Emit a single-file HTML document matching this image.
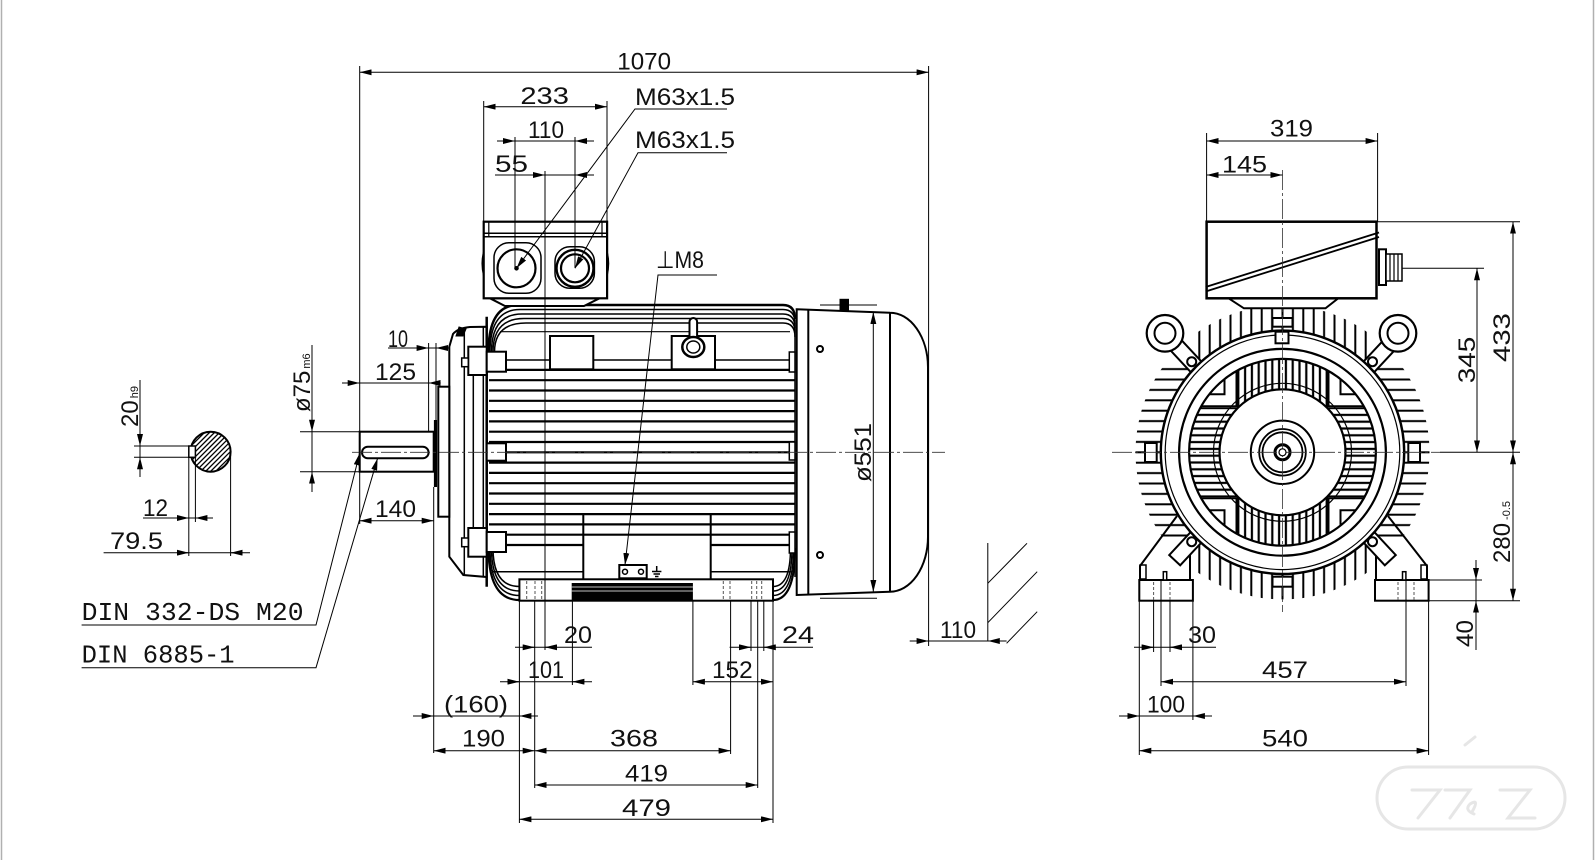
<!DOCTYPE html>
<html><head><meta charset="utf-8">
<style>
html,body{margin:0;padding:0;background:#fff;}
svg{display:block}
text{font-family:"Liberation Sans",sans-serif;font-size:24px;fill:#111}
.m{font-family:"Liberation Mono","Liberation Sans",monospace;font-size:26px}
</style></head><body>
<svg width="1596" height="860" viewBox="0 0 1596 860" xmlns="http://www.w3.org/2000/svg">
<defs>
<marker id="ar" viewBox="0 0 12 6" refX="12" refY="3" markerWidth="12" markerHeight="6" markerUnits="userSpaceOnUse" orient="auto-start-reverse"><path d="M0,0 L12,3 L0,6 z" fill="#000"/></marker>
<pattern id="hf" patternUnits="userSpaceOnUse" x="0" y="447.1" width="40" height="10.4"><rect x="0" y="4.2" width="40" height="2" fill="#000"/></pattern>
<pattern id="vf" patternUnits="userSpaceOnUse" x="1277.3" y="0" width="10.4" height="40"><rect x="4.2" y="0" width="2" height="40" fill="#000"/></pattern>
<pattern id="gv" patternUnits="userSpaceOnUse" x="1282.5" y="0" width="6.8" height="40"><rect x="2.3" y="0" width="2.2" height="40" fill="#000"/></pattern>
<pattern id="gh" patternUnits="userSpaceOnUse" x="0" y="452.3" width="40" height="6.8"><rect x="0" y="2.3" width="40" height="2.2" fill="#000"/></pattern>
<clipPath id="finAnn"><path clip-rule="evenodd" d="M1135.5,452.3 a147,147 0 1,0 294,0 a147,147 0 1,0 -294,0 Z M1160.8,452.3 a121.7,121.7 0 1,0 243.4,0 a121.7,121.7 0 1,0 -243.4,0 Z"/></clipPath>
<clipPath id="grAnn"><path clip-rule="evenodd" d="M1189.5,452.3 a93,93 0 1,0 186,0 a93,93 0 1,0 -186,0 Z M1219.5,452.3 a63,63 0 1,0 126,0 a63,63 0 1,0 -126,0 Z"/></clipPath>
<clipPath id="cs"><circle cx="210.6" cy="451.7" r="20"/></clipPath>
</defs>
<rect width="1596" height="860" fill="#fff"/>
<line x1="1.5" y1="0" x2="1.5" y2="860" stroke="#b0b0b0" stroke-width="1.5"/>
<line x1="1593.5" y1="0" x2="1593.5" y2="860" stroke="#b0b0b0" stroke-width="1.5"/>

<!-- ========== SIDE VIEW BODY ========== -->
<g stroke="#000" stroke-width="2.2">
<line x1="489" y1="369.9" x2="795" y2="369.9"/>
<line x1="489" y1="380.2" x2="795" y2="380.2"/>
<line x1="489" y1="390.5" x2="795" y2="390.5"/>
<line x1="489" y1="400.8" x2="795" y2="400.8"/>
<line x1="489" y1="411.1" x2="795" y2="411.1"/>
<line x1="489" y1="421.4" x2="795" y2="421.4"/>
<line x1="489" y1="431.7" x2="795" y2="431.7"/>
<line x1="489" y1="442.0" x2="795" y2="442.0"/>
<line x1="489" y1="452.3" x2="795" y2="452.3"/>
<line x1="489" y1="462.6" x2="795" y2="462.6"/>
<line x1="489" y1="472.9" x2="795" y2="472.9"/>
<line x1="489" y1="483.2" x2="795" y2="483.2"/>
<line x1="489" y1="493.5" x2="795" y2="493.5"/>
<line x1="489" y1="503.8" x2="795" y2="503.8"/>
<line x1="489" y1="514.1" x2="795" y2="514.1"/>
<line x1="489" y1="524.4" x2="795" y2="524.4"/>
<line x1="489" y1="534.7" x2="795" y2="534.7"/>
<line x1="489" y1="545.0" x2="583" y2="545.0"/>
<line x1="711" y1="545.0" x2="795" y2="545.0"/>
</g>
<g fill="none" stroke="#000">
<!-- frame corners -->
<path stroke-width="2.4" d="M488.5,352 Q488.5,305 518,305 H783 Q795,305 795,319"/>
<path stroke-width="1.5" d="M490,352 Q490,309.5 520,309.5 H783 Q795,309.5 795,323.5"/>
<path stroke-width="1.5" d="M491.5,352 Q491.5,314 522,314 H783 Q795,314 795,328"/>
<path stroke-width="1.5" d="M493,352 Q493,318.5 524,318.5 H783 Q795,318.5 795,332.5"/>
<path stroke-width="1.5" d="M494.5,352 Q494.5,323 526,323 H783 Q795,323 795,337"/>
<path stroke-width="2.2" d="M488.5,548 Q488.5,600 519.4,600"/>
<path stroke-width="1.5" d="M490,548 Q490,595.5 519.4,595.5"/>
<path stroke-width="1.5" d="M491.5,548 Q491.5,591 519.4,591"/>
<path stroke-width="1.5" d="M493,548 Q493,586.5 519.4,586.5"/>
<path stroke-width="2.2" d="M795,548 Q795,600 773,600"/>
<path stroke-width="1.5" d="M793.5,548 Q793.5,595.5 773,595.5"/>
<path stroke-width="1.5" d="M792,548 Q792,591 773,591"/>
<path stroke-width="1.5" d="M790.5,548 Q790.5,586.5 773,586.5"/>
<line x1="500" y1="331.7" x2="790" y2="331.7" stroke-width="1.2"/>
<line x1="506" y1="360" x2="550" y2="360" stroke-width="1.5"/>
<line x1="593.3" y1="360" x2="671.7" y2="360" stroke-width="1.5"/>
<line x1="715" y1="360" x2="789" y2="360" stroke-width="1.5"/>
<line x1="493" y1="571.7" x2="583" y2="571.7" stroke-width="1.5"/>
<line x1="711" y1="571.7" x2="791" y2="571.7" stroke-width="1.5"/>
<line x1="795" y1="323" x2="795" y2="577" stroke-width="1.5"/>
<rect x="550" y="336" width="43.3" height="33.3" fill="#fff" stroke-width="2"/>
<rect x="671.7" y="336" width="43.3" height="33.3" fill="#fff" stroke-width="2"/>
<rect x="689.5" y="318" width="7.6" height="26" rx="3.8" fill="#fff" stroke-width="2"/>
<ellipse cx="693.3" cy="347" rx="11" ry="10" fill="#fff" stroke-width="2.5"/>
<ellipse cx="693.3" cy="347" rx="6.5" ry="6" stroke-width="1.5"/>
<line x1="583.3" y1="514" x2="583.3" y2="579.3" stroke-width="2"/>
<line x1="710.7" y1="514" x2="710.7" y2="579.3" stroke-width="2"/>
<!-- ground terminal -->
<rect x="619.3" y="565" width="27.4" height="13.3" fill="#fff" stroke-width="2"/>
<circle cx="625" cy="571.7" r="2.5" stroke-width="1.5"/>
<circle cx="641" cy="571.7" r="2.5" stroke-width="1.5"/>
<line x1="656.7" y1="566" x2="656.7" y2="571" stroke-width="1.5"/>
<line x1="652" y1="571.5" x2="661.4" y2="571.5" stroke-width="1.5"/>
<line x1="653.5" y1="574" x2="660" y2="574" stroke-width="1.5"/>
<line x1="655" y1="576.5" x2="658.5" y2="576.5" stroke-width="1.5"/>
<!-- base / feet -->
<rect x="519.4" y="579.3" width="253.6" height="21.4" fill="#fff" stroke-width="2"/>
<rect x="571.7" y="583" width="121.2" height="17" fill="#000" stroke="none"/>
<line x1="571.7" y1="587" x2="692.9" y2="587" stroke="#fff" stroke-width="0.8"/>
<line x1="571.7" y1="591" x2="692.9" y2="591" stroke="#fff" stroke-width="0.8"/>
<g stroke-width="1" stroke-dasharray="3 2" stroke="#555">
<line x1="526.7" y1="581" x2="526.7" y2="600"/><line x1="535" y1="581" x2="535" y2="600"/><line x1="541.7" y1="581" x2="541.7" y2="600"/>
<line x1="723.3" y1="581" x2="723.3" y2="600"/><line x1="730" y1="581" x2="730" y2="600"/><line x1="751.7" y1="581" x2="751.7" y2="600"/><line x1="756.7" y1="581" x2="756.7" y2="600"/><line x1="761.7" y1="581" x2="761.7" y2="600"/>
</g>
<!-- right side frame rects -->
<rect x="789.3" y="352" width="5.7" height="20" fill="#fff" stroke-width="1.5"/>
<rect x="789.3" y="442" width="5.7" height="18" fill="#fff" stroke-width="1.5"/>
<rect x="789.3" y="532" width="5.7" height="21" fill="#fff" stroke-width="1.5"/>
<!-- end shield -->
<path stroke-width="2" fill="#fff" d="M486.7,326.7 L470,327 Q458,328 453,334 L449.3,346.7 L449.3,556.7 L463.3,575 L486.7,577 Z"/>
<line x1="464.3" y1="331" x2="464.3" y2="575" stroke-width="1.5"/>
<line x1="473.3" y1="346.7" x2="473.3" y2="556.7" stroke-width="1.5"/>
<line x1="483.3" y1="326.7" x2="483.3" y2="577" stroke-width="1.5"/>
<line x1="486.7" y1="316.7" x2="486.7" y2="586.7" stroke-width="2.5"/>
<rect x="468.3" y="346.7" width="18.4" height="28.3" fill="#fff" stroke-width="2"/>
<rect x="461.7" y="358" width="6.6" height="8.7" fill="#fff" stroke-width="1.5"/>
<rect x="486.7" y="351.7" width="19.3" height="20" fill="#fff" stroke-width="2"/>
<rect x="468.3" y="528" width="18.4" height="28.7" fill="#fff" stroke-width="2"/>
<rect x="461.7" y="538" width="6.6" height="8.7" fill="#fff" stroke-width="1.5"/>
<rect x="486.7" y="532" width="19.3" height="20" fill="#fff" stroke-width="2"/>
<rect x="486.7" y="443.3" width="19.3" height="17.4" fill="#fff" stroke-width="2"/>
<path d="M456,336 L459,327 L466,329 L463,336 Z" fill="#000" stroke-width="1"/>
<rect x="438.3" y="386.7" width="11" height="130" fill="#fff" stroke-width="2"/>
<line x1="435.5" y1="420" x2="435.5" y2="487" stroke-width="3.2"/>
<!-- shaft -->
<rect x="359.7" y="431.7" width="74" height="40" fill="#fff" stroke-width="2"/>
<rect x="362" y="446.7" width="66.6" height="11.6" rx="5.8" stroke-width="2"/>
<!-- terminal box side -->
<polygon points="490,298.3 505,306 584,306 599.5,298.3" fill="#fff" stroke-width="2"/>
<rect x="483.7" y="221.7" width="123.4" height="76.6" fill="#fff" stroke-width="2.2"/>
<line x1="483.7" y1="233.3" x2="607" y2="233.3" stroke-width="1.5"/>
<line x1="483.7" y1="236.7" x2="607" y2="236.7" stroke-width="1.5"/>
<line x1="488.8" y1="221.7" x2="488.8" y2="236.7" stroke-width="1.2"/>
<line x1="602" y1="221.7" x2="602" y2="236.7" stroke-width="1.2"/>
<path d="M483.7,252 q-3,11 0,24" stroke-width="1.5"/>
<path d="M607,252 q3,11 0,24" stroke-width="1.5"/>
<rect x="494" y="242.7" width="47" height="50.6" rx="15" stroke-width="1.5"/>
<circle cx="516.5" cy="268.3" r="19" stroke-width="2.2"/>
<circle cx="516.5" cy="268.3" r="1.8" fill="#000"/>
<rect x="555" y="246.7" width="39.4" height="41.6" rx="15" stroke-width="1.5"/>
<circle cx="575" cy="268.3" r="18.5" stroke-width="2.4"/>
<circle cx="575" cy="268.3" r="14" stroke-width="2.2"/>
<!-- fan cover -->
<path stroke-width="2" fill="#fff" d="M796.7,309.3 L890,312.7 A38,55 0 0 1 928,367 L928,537 A38,55 0 0 1 890,591.7 L796.7,595 Z"/>
<line x1="808.3" y1="309.7" x2="808.3" y2="594.6" stroke-width="2"/>
<line x1="890" y1="312.7" x2="890" y2="591.7" stroke-width="2"/>
<rect x="840" y="299.3" width="8.5" height="11" fill="#000" stroke-width="1"/>
<circle cx="820" cy="349" r="3" stroke-width="2"/>
<circle cx="820" cy="555" r="3" stroke-width="2"/>
</g>
<!-- side center line -->
<line x1="352" y1="452.3" x2="945" y2="452.3" stroke="#333" stroke-width="0.8" stroke-dasharray="20 3 3 3"/>

<!-- ========== SIDE VIEW DIMENSIONS ========== -->
<g stroke="#000" stroke-width="1" fill="none">
<!-- extension lines -->
<line x1="359.7" y1="66" x2="359.7" y2="524"/>
<line x1="928.6" y1="66" x2="928.6" y2="646"/>
<line x1="483.7" y1="101" x2="483.7" y2="222"/>
<line x1="607" y1="101" x2="607" y2="222"/>
<line x1="515" y1="137" x2="515" y2="268"/>
<line x1="575" y1="137" x2="575" y2="268"/>
<line x1="545" y1="171" x2="545" y2="650"/>
<line x1="428.6" y1="343" x2="428.6" y2="431"/>
<line x1="436" y1="343" x2="436" y2="420"/>
<line x1="300" y1="431.7" x2="359.7" y2="431.7"/>
<line x1="300" y1="471.7" x2="359.7" y2="471.7"/>
<line x1="433.7" y1="487" x2="433.7" y2="753"/>
<line x1="519.4" y1="600" x2="519.4" y2="823"/>
<line x1="534.7" y1="600" x2="534.7" y2="788"/>
<line x1="572.4" y1="600" x2="572.4" y2="685"/>
<line x1="692.9" y1="600" x2="692.9" y2="685"/>
<line x1="730.6" y1="600" x2="730.6" y2="754"/>
<line x1="751" y1="600" x2="751" y2="651"/>
<line x1="757.7" y1="600" x2="757.7" y2="788"/>
<line x1="763.8" y1="600" x2="763.8" y2="651"/>
<line x1="773" y1="600" x2="773" y2="823"/>
<line x1="820" y1="305" x2="877" y2="305"/>
<line x1="820" y1="598.3" x2="877" y2="598.3"/>
<line x1="987.8" y1="543" x2="987.8" y2="641"/>
<line x1="987.8" y1="583.3" x2="1027" y2="543.3"/>
<line x1="987.8" y1="622.7" x2="1037.2" y2="571.7"/>
<line x1="1006.6" y1="643.3" x2="1037.2" y2="611.7"/>

<!-- dims with inside arrows -->
<line x1="359.7" y1="72.3" x2="928.6" y2="72.3" marker-start="url(#ar)" marker-end="url(#ar)"/>
<line x1="483.7" y1="106.7" x2="607" y2="106.7" marker-start="url(#ar)" marker-end="url(#ar)"/>
<line x1="359.7" y1="520.7" x2="433.7" y2="520.7" marker-start="url(#ar)" marker-end="url(#ar)"/>
<line x1="692.9" y1="681.7" x2="773" y2="681.7" marker-start="url(#ar)" marker-end="url(#ar)"/>
<line x1="433.7" y1="750.7" x2="534.7" y2="750.7" marker-start="url(#ar)" marker-end="url(#ar)"/>
<line x1="534.7" y1="750.7" x2="730.6" y2="750.7" marker-start="url(#ar)" marker-end="url(#ar)"/>
<line x1="534.7" y1="785" x2="757.7" y2="785" marker-start="url(#ar)" marker-end="url(#ar)"/>
<line x1="519.4" y1="819.3" x2="773" y2="819.3" marker-start="url(#ar)" marker-end="url(#ar)"/>
<line x1="873.3" y1="312" x2="873.3" y2="592" marker-start="url(#ar)" marker-end="url(#ar)"/>

<!-- dims with outside arrows -->
<line x1="497" y1="141" x2="594" y2="141"/>
<line x1="503" y1="141" x2="515" y2="141" marker-end="url(#ar)"/>
<line x1="587" y1="141" x2="575" y2="141" marker-end="url(#ar)"/>
<line x1="495" y1="175" x2="594" y2="175"/>
<line x1="533" y1="175" x2="545" y2="175" marker-end="url(#ar)"/>
<line x1="587" y1="175" x2="575" y2="175" marker-end="url(#ar)"/>
<line x1="388" y1="348" x2="449" y2="348"/>
<line x1="416.6" y1="348" x2="428.6" y2="348" marker-end="url(#ar)"/>
<line x1="448" y1="348" x2="436" y2="348" marker-end="url(#ar)"/>
<line x1="342" y1="383" x2="440.6" y2="383"/>
<line x1="347.7" y1="383" x2="359.7" y2="383" marker-end="url(#ar)"/>
<line x1="440.6" y1="383" x2="428.6" y2="383" marker-end="url(#ar)"/>
<line x1="312" y1="345" x2="312" y2="492"/>
<line x1="312" y1="419.7" x2="312" y2="431.7" marker-end="url(#ar)"/>
<line x1="312" y1="483.7" x2="312" y2="471.7" marker-end="url(#ar)"/>
<line x1="515" y1="647.3" x2="592" y2="647.3"/>
<line x1="522.7" y1="647.3" x2="534.7" y2="647.3" marker-end="url(#ar)"/>
<line x1="557" y1="647.3" x2="545" y2="647.3" marker-end="url(#ar)"/>
<line x1="500" y1="681.7" x2="592" y2="681.7"/>
<line x1="507.4" y1="681.7" x2="519.4" y2="681.7" marker-end="url(#ar)"/>
<line x1="584.4" y1="681.7" x2="572.4" y2="681.7" marker-end="url(#ar)"/>
<line x1="729.6" y1="647.3" x2="813" y2="647.3"/>
<line x1="739" y1="647.3" x2="751" y2="647.3" marker-end="url(#ar)"/>
<line x1="775.8" y1="647.3" x2="763.8" y2="647.3" marker-end="url(#ar)"/>
<line x1="413" y1="716" x2="538" y2="716"/>
<line x1="421.7" y1="716" x2="433.7" y2="716" marker-end="url(#ar)"/>
<line x1="531.4" y1="716" x2="519.4" y2="716" marker-end="url(#ar)"/>
<line x1="909.7" y1="641" x2="1006.6" y2="641"/>
<line x1="916.6" y1="641" x2="928.6" y2="641" marker-end="url(#ar)"/>
<line x1="999.8" y1="641" x2="987.8" y2="641" marker-end="url(#ar)"/>

<!-- leaders -->
<polyline points="727,109 635,109 516.5,268.3" marker-end="url(#ar)"/>
<polyline points="727,152.7 638,152.7 575,268.3" marker-end="url(#ar)"/>
<polyline points="717,275 658,275 625,565" marker-end="url(#ar)"/>
<polyline points="81.6,625 316,625 359.7,453.3" marker-end="url(#ar)"/>
<polyline points="81.6,667.7 316,667.7 377.6,458.3" marker-end="url(#ar)"/>

<!-- shaft cross-section dims -->
<line x1="140" y1="380" x2="140" y2="477"/>
<line x1="140" y1="434" x2="140" y2="446" marker-end="url(#ar)"/>
<line x1="140" y1="469.3" x2="140" y2="457.3" marker-end="url(#ar)"/>
<line x1="134" y1="446" x2="192" y2="446"/>
<line x1="134" y1="457.3" x2="192" y2="457.3"/>
<line x1="188.8" y1="457" x2="188.8" y2="556"/>
<line x1="195.4" y1="457" x2="195.4" y2="522"/>
<line x1="230.6" y1="451.7" x2="230.6" y2="556"/>
<line x1="143" y1="518" x2="213" y2="518"/>
<line x1="176.8" y1="518" x2="188.8" y2="518" marker-end="url(#ar)"/>
<line x1="207.4" y1="518" x2="195.4" y2="518" marker-end="url(#ar)"/>
<line x1="103.6" y1="552.7" x2="250" y2="552.7"/>
<line x1="176.8" y1="552.7" x2="188.8" y2="552.7" marker-end="url(#ar)"/>
<line x1="242.6" y1="552.7" x2="230.6" y2="552.7" marker-end="url(#ar)"/>
</g>
<!-- cross-section -->
<g clip-path="url(#cs)" stroke="#000" stroke-width="1.3">
<line x1="170" y1="472" x2="210" y2="432"/><line x1="175" y1="472" x2="215" y2="432"/><line x1="180" y1="472" x2="220" y2="432"/><line x1="185" y1="472" x2="225" y2="432"/><line x1="190" y1="472" x2="230" y2="432"/><line x1="195" y1="472" x2="235" y2="432"/><line x1="200" y1="472" x2="240" y2="432"/><line x1="205" y1="472" x2="245" y2="432"/><line x1="210" y1="472" x2="250" y2="432"/><line x1="215" y1="472" x2="255" y2="432"/><line x1="165" y1="472" x2="205" y2="432"/><line x1="160" y1="472" x2="200" y2="432"/>
</g>
<circle cx="210.6" cy="451.7" r="20" fill="none" stroke="#000" stroke-width="2"/>
<rect x="188.8" y="446" width="6.6" height="11.3" fill="#fff" stroke="#000" stroke-width="1.5"/>

<!-- ========== END VIEW ========== -->
<g clip-path="url(#finAnn)">
<rect x="1130" y="364.3" width="305" height="176" fill="url(#hf)"/>
<rect x="1194.5" y="300" width="176" height="305" fill="url(#vf)"/>
</g>
<g fill="none" stroke="#000">
<!-- supports -->
<polyline points="1140,580 1140,566 1177,516" stroke-width="2"/>
<line x1="1190" y1="546" x2="1190" y2="580" stroke-width="2"/>
<rect x="1140" y="565" width="6" height="14" stroke-width="1.5"/>
<polyline points="1427,580 1427,566 1388,516" stroke-width="2"/>
<line x1="1376" y1="546" x2="1376" y2="580" stroke-width="2"/>
<rect x="1421" y="565" width="6" height="14" stroke-width="1.5"/>
<!-- lugs -->
<rect x="-18" y="-7.5" width="36" height="15" transform="translate(1186,356) rotate(47)" fill="#fff" stroke-width="2"/>
<rect x="-18" y="-7.5" width="36" height="15" transform="translate(1379,356) rotate(-47)" fill="#fff" stroke-width="2"/>
<rect x="-18" y="-7.5" width="36" height="15" transform="translate(1187,547) rotate(-47)" fill="#fff" stroke-width="2"/>
<rect x="-18" y="-7.5" width="36" height="15" transform="translate(1378,547) rotate(47)" fill="#fff" stroke-width="2"/>
<circle cx="1165" cy="333.3" r="18.3" fill="#fff" stroke-width="2.2"/>
<circle cx="1165" cy="333.3" r="10.5" stroke-width="2"/>
<circle cx="1398" cy="333.3" r="18.3" fill="#fff" stroke-width="2.2"/>
<circle cx="1398" cy="333.3" r="10.5" stroke-width="2"/>
<!-- frame circles -->
<circle cx="1282.5" cy="452.3" r="121.7" fill="#fff" stroke-width="2.4"/>
<circle cx="1282.5" cy="452.3" r="117.3" stroke-width="1.2"/>
<circle cx="1282.5" cy="452.3" r="103.4" stroke-width="2.2"/>
<circle cx="1282.5" cy="452.3" r="93.4" stroke-width="2.2"/>
<circle cx="1191.7" cy="361.7" r="4.5" fill="#fff" stroke-width="2"/>
<circle cx="1372.5" cy="361.7" r="4.5" fill="#fff" stroke-width="2"/>
<circle cx="1191.7" cy="541.7" r="4.5" fill="#fff" stroke-width="2"/>
<circle cx="1372.5" cy="541.7" r="4.5" fill="#fff" stroke-width="2"/>
</g>
<g clip-path="url(#grAnn)">
<rect x="1237.5" y="355" width="90" height="195" fill="url(#gv)"/>
<rect x="1185" y="407.3" width="195" height="90" fill="url(#gh)"/>
<g fill="none" stroke="#000" stroke-width="2">
<polyline points="1192.5,394.3 1224.5,394.3 1224.5,362.3"/>
<polyline points="1192.5,406.3 1236.5,406.3 1236.5,362.3"/>
<polyline points="1372.5,394.3 1340.5,394.3 1340.5,362.3"/>
<polyline points="1372.5,406.3 1328.5,406.3 1328.5,362.3"/>
<polyline points="1192.5,510.3 1224.5,510.3 1224.5,542.3"/>
<polyline points="1192.5,498.3 1236.5,498.3 1236.5,542.3"/>
<polyline points="1372.5,510.3 1340.5,510.3 1340.5,542.3"/>
<polyline points="1372.5,498.3 1328.5,498.3 1328.5,542.3"/>
</g>
</g>
<g fill="none" stroke="#000">
<circle cx="1282.5" cy="452.3" r="69" stroke-width="1.2"/>
<circle cx="1282.5" cy="452.3" r="63" fill="#fff" stroke-width="2.2"/>
<circle cx="1282.5" cy="452.3" r="31.7" stroke-width="2"/>
<circle cx="1282.5" cy="452.3" r="23.3" stroke-width="1.8"/>
<circle cx="1282.5" cy="452.3" r="20" stroke-width="1.8"/>
<circle cx="1282.5" cy="452.3" r="7.5" stroke-width="3"/>
<!-- small rects on frame -->
<rect x="1275.5" y="331.7" width="13" height="11.6" fill="#fff" stroke-width="2"/>
<rect x="1272.5" y="318" width="20" height="8.7" fill="#fff" stroke-width="2"/>
<rect x="1272.5" y="576.7" width="20" height="10" fill="#fff" stroke-width="2"/>
<rect x="1145" y="443" width="11.7" height="19" fill="#fff" stroke-width="2"/>
<rect x="1408.3" y="443" width="11.7" height="19" fill="#fff" stroke-width="2"/>
<!-- feet -->
<rect x="1139.3" y="580" width="53.6" height="20.7" fill="#fff" stroke-width="2"/>
<rect x="1375" y="580" width="53.6" height="20.7" fill="#fff" stroke-width="2"/>
<rect x="1163.3" y="571.7" width="3.4" height="8.3" fill="#fff" stroke-width="1.5"/>
<rect x="1402.5" y="571.7" width="3.4" height="8.3" fill="#fff" stroke-width="1.5"/>
<g stroke-width="1" stroke-dasharray="3 2" stroke="#555">
<line x1="1153.6" y1="582" x2="1153.6" y2="600"/><line x1="1170" y1="582" x2="1170" y2="600"/>
<line x1="1398" y1="582" x2="1398" y2="600"/><line x1="1414" y1="582" x2="1414" y2="600"/>
</g>
<!-- terminal box end -->
<polygon points="1228.6,298.3 1243.9,308.3 1325.5,308.3 1338.3,298.3" fill="#fff" stroke-width="2"/>
<rect x="1206.6" y="221.7" width="169.9" height="76.6" fill="#fff" stroke-width="2.5"/>
<line x1="1205.6" y1="287" x2="1379" y2="232.5" stroke-width="1.8"/>
<line x1="1205.6" y1="291.5" x2="1379" y2="237" stroke-width="1.8"/>
<rect x="1379" y="249.3" width="7" height="35.7" fill="#fff" stroke-width="2"/>
<rect x="1386" y="254" width="16" height="27" fill="#fff" stroke-width="1.5"/>
<line x1="1390" y1="254" x2="1390" y2="281" stroke-width="1.2"/>
<line x1="1394" y1="254" x2="1394" y2="281" stroke-width="1.2"/>
<line x1="1398" y1="254" x2="1398" y2="281" stroke-width="1.2"/>
</g>
<!-- end view center lines -->
<line x1="1112" y1="452.3" x2="1440" y2="452.3" stroke="#333" stroke-width="0.8" stroke-dasharray="20 3 3 3"/>
<line x1="1282.5" y1="170" x2="1282.5" y2="612" stroke="#333" stroke-width="0.8" stroke-dasharray="20 3 3 3"/>
<circle cx="1282.5" cy="452.3" r="3.5" fill="#fff" stroke="#000" stroke-width="1.2"/>

<!-- end view dimensions -->
<g stroke="#000" stroke-width="1" fill="none">
<line x1="1206.6" y1="133" x2="1206.6" y2="222"/>
<line x1="1377.6" y1="133" x2="1377.6" y2="222"/>
<line x1="1206.6" y1="141" x2="1377.6" y2="141" marker-start="url(#ar)" marker-end="url(#ar)"/>
<line x1="1206.6" y1="175" x2="1282.5" y2="175" marker-start="url(#ar)" marker-end="url(#ar)"/>
<line x1="1376.5" y1="221.7" x2="1520" y2="221.7"/>
<line x1="1402" y1="268.3" x2="1484" y2="268.3"/>
<line x1="1440" y1="452.3" x2="1520" y2="452.3"/>
<line x1="1428.6" y1="580" x2="1482" y2="580"/>
<line x1="1428.6" y1="600.7" x2="1520" y2="600.7"/>
<line x1="1513" y1="221.7" x2="1513" y2="452.3" marker-start="url(#ar)" marker-end="url(#ar)"/>
<line x1="1513" y1="452.3" x2="1513" y2="600.7" marker-start="url(#ar)" marker-end="url(#ar)"/>
<line x1="1477" y1="268.3" x2="1477" y2="452.3" marker-start="url(#ar)" marker-end="url(#ar)"/>
<line x1="1476" y1="560" x2="1476" y2="650"/>
<line x1="1476" y1="568" x2="1476" y2="580" marker-end="url(#ar)"/>
<line x1="1476" y1="612.7" x2="1476" y2="600.7" marker-end="url(#ar)"/>
<line x1="1139.3" y1="600" x2="1139.3" y2="755"/>
<line x1="1153.6" y1="600" x2="1153.6" y2="652"/>
<line x1="1161" y1="580" x2="1161" y2="686"/>
<line x1="1170" y1="600" x2="1170" y2="652"/>
<line x1="1192.9" y1="600" x2="1192.9" y2="720"/>
<line x1="1406" y1="580" x2="1406" y2="686"/>
<line x1="1428.6" y1="600" x2="1428.6" y2="755"/>
<line x1="1134" y1="647.3" x2="1216" y2="647.3"/>
<line x1="1141.6" y1="647.3" x2="1153.6" y2="647.3" marker-end="url(#ar)"/>
<line x1="1182" y1="647.3" x2="1170" y2="647.3" marker-end="url(#ar)"/>
<line x1="1161" y1="681.7" x2="1406" y2="681.7" marker-start="url(#ar)" marker-end="url(#ar)"/>
<line x1="1119" y1="716" x2="1212" y2="716"/>
<line x1="1127.3" y1="716" x2="1139.3" y2="716" marker-end="url(#ar)"/>
<line x1="1204.9" y1="716" x2="1192.9" y2="716" marker-end="url(#ar)"/>
<line x1="1139.3" y1="750.7" x2="1428.6" y2="750.7" marker-start="url(#ar)" marker-end="url(#ar)"/>
</g>

<!-- watermark -->
<g fill="none" stroke="#e6e6e6" stroke-width="3" stroke-linecap="round">
<rect x="1377" y="767" width="188" height="62" rx="31"/>
<path d="M1412,790 L1440,790 L1418,818"/>
<path d="M1445,790 L1470,790 L1450,818"/>
<path d="M1500,790 L1530,790 L1508,818 L1535,818"/>
<path d="M1472,812 q8,-14 -2,-8 q-6,6 4,10"/>
<path d="M1465,745 l10,-8"/>
</g>

<!-- ========== TEXT ========== -->
<text x="617.3" y="69.5" textLength="53.7" lengthAdjust="spacingAndGlyphs">1070</text>
<text x="520.4" y="104" textLength="48.5" lengthAdjust="spacingAndGlyphs">233</text>
<text x="528" y="138" textLength="36" lengthAdjust="spacingAndGlyphs">110</text>
<text x="495" y="172" textLength="33" lengthAdjust="spacingAndGlyphs">55</text>
<text x="635" y="105" textLength="100" lengthAdjust="spacingAndGlyphs">M63x1.5</text>
<text x="635" y="148" textLength="100" lengthAdjust="spacingAndGlyphs">M63x1.5</text>
<text x="656" y="268" textLength="48" lengthAdjust="spacingAndGlyphs">⊥M8</text>
<text x="388" y="347" textLength="20" lengthAdjust="spacingAndGlyphs">10</text>
<text x="375" y="380" textLength="41" lengthAdjust="spacingAndGlyphs">125</text>
<text x="375" y="517" textLength="41" lengthAdjust="spacingAndGlyphs">140</text>
<text x="143" y="516" textLength="25" lengthAdjust="spacingAndGlyphs">12</text>
<text x="110" y="549" textLength="53" lengthAdjust="spacingAndGlyphs">79.5</text>
<text class="m" x="81.6" y="620" textLength="222" lengthAdjust="spacingAndGlyphs">DIN 332-DS M20</text>
<text class="m" x="81.6" y="662.7" textLength="153" lengthAdjust="spacingAndGlyphs">DIN 6885-1</text>
<text x="564" y="643" textLength="28" lengthAdjust="spacingAndGlyphs">20</text>
<text x="528" y="678" textLength="36" lengthAdjust="spacingAndGlyphs">101</text>
<text x="712" y="678" textLength="40.6" lengthAdjust="spacingAndGlyphs">152</text>
<text x="782" y="643" textLength="32" lengthAdjust="spacingAndGlyphs">24</text>
<text x="444" y="712.7" textLength="64" lengthAdjust="spacingAndGlyphs">(160)</text>
<text x="462" y="746.7" textLength="43" lengthAdjust="spacingAndGlyphs">190</text>
<text x="610" y="746.7" textLength="48" lengthAdjust="spacingAndGlyphs">368</text>
<text x="625" y="781.7" textLength="43" lengthAdjust="spacingAndGlyphs">419</text>
<text x="622" y="816" textLength="49" lengthAdjust="spacingAndGlyphs">479</text>
<text x="940" y="638" textLength="36" lengthAdjust="spacingAndGlyphs">110</text>
<text x="1270" y="136.7" textLength="43" lengthAdjust="spacingAndGlyphs">319</text>
<text x="1222" y="172.3" textLength="45" lengthAdjust="spacingAndGlyphs">145</text>
<text x="1262" y="678" textLength="46" lengthAdjust="spacingAndGlyphs">457</text>
<text x="1188" y="643" textLength="28" lengthAdjust="spacingAndGlyphs">30</text>
<text x="1147" y="712.7" textLength="38" lengthAdjust="spacingAndGlyphs">100</text>
<text x="1262" y="746.7" textLength="46" lengthAdjust="spacingAndGlyphs">540</text>

<text transform="translate(871,482) rotate(-90)" textLength="59" lengthAdjust="spacingAndGlyphs">ø551</text>
<text transform="translate(310,412) rotate(-90)">ø75<tspan font-size="11" dx="2">m6</tspan></text>
<text transform="translate(138,427) rotate(-90)">20<tspan font-size="11" dx="2">h9</tspan></text>
<text transform="translate(1475,383.3) rotate(-90)" textLength="46.6" lengthAdjust="spacingAndGlyphs">345</text>
<text transform="translate(1510,362) rotate(-90)" textLength="49" lengthAdjust="spacingAndGlyphs">433</text>
<text transform="translate(1510,563) rotate(-90)">280<tspan font-size="11" dx="3">-0.5</tspan></text>
<text transform="translate(1473,647) rotate(-90)" textLength="27" lengthAdjust="spacingAndGlyphs">40</text>
</svg>
</body></html>
